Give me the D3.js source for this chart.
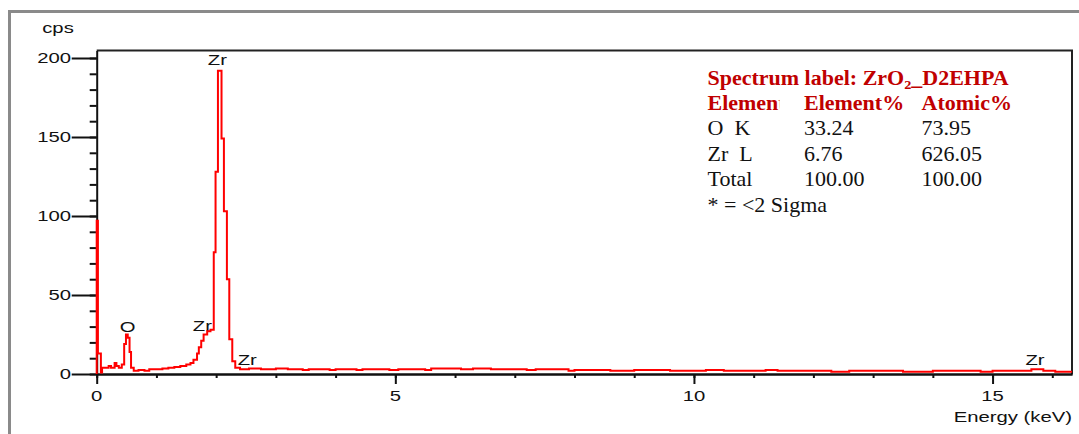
<!DOCTYPE html>
<html>
<head>
<meta charset="utf-8">
<script src="https://cdn.jsdelivr.net/npm/d3@7"></script>
<style>
  body { margin: 0; background: #fff; }
  svg { display: block; }
  text { white-space: pre; }
</style>
</head>
<body>
<div id="app"></div>
<script>
// spectrum steps: each count holds from its energy up to the next energy (keV, cps)
const energy = [0.00, 0.02, 0.07, 0.09, 0.20, 0.24, 0.30, 0.33, 0.37, 0.42,
  0.46, 0.49, 0.52, 0.55, 0.575, 0.62, 0.70, 0.80, 0.88, 1.00,
  1.10, 1.20, 1.30, 1.40, 1.50, 1.57, 1.62, 1.68, 1.71, 1.75,
  1.79, 1.85, 1.905, 1.96, 1.99, 2.03, 2.09, 2.13, 2.18, 2.22,
  2.27, 2.32, 2.40, 2.55, 2.75, 3.00, 3.20, 3.45, 3.55, 3.90,
  4.00, 4.35, 4.45, 4.90, 5.05, 5.50, 5.60, 6.10, 6.30, 6.60,
  7.20, 7.35, 7.90, 8.00, 8.60, 9.00, 9.60, 10.20, 10.50, 11.20,
  11.40, 12.30, 12.60, 13.50, 14.00, 14.80, 15.00, 15.65, 15.85, 16.05,
  16.33]
const counts = [97, 13, 1, 4, 5, 4, 7, 5, 4, 6,
  19, 25, 23, 14, 4, 2, 2.5, 2, 3, 3,
  3.5, 4, 4.5, 5, 6, 7, 9, 13, 17, 21,
  25, 27, 28, 77, 128, 192, 149, 103, 60, 22,
  8, 4, 3, 3.5, 3, 3.5, 3, 2.5, 3, 2.5,
  3, 2.5, 3, 2.5, 3, 2.5, 3.5, 3, 3.5, 3,
  2.5, 3, 2, 2.5, 2, 2.5, 2, 2.5, 2, 2.5,
  2, 1.5, 2, 1.5, 2, 1.5, 2, 3, 2, 1.5,
  1.5]

// peak markers
const peakNames = ['O', 'Zr', 'Zr', 'Zr', 'Zr']
const peakEnergy = [0.52, 2.02, 1.77, 2.52, 15.71]
const peakCps = [26.6, 195.6, 27.2, 5.7, 5.7]

const xMajor = [0, 5, 10, 15]
const xMinor = d3.range(0, 17)
const yMajor = [0, 50, 100, 150, 200]
const yMinor = d3.range(0, 201, 10)

const tableHead = ['Element', 'Element%', 'Atomic%']
const tableRows = [
  ['O  K', '33.24', '73.95'],
  ['Zr  L', '6.76', '626.05'],
  ['Total', '100.00', '100.00'],
  ['* = <2 Sigma', '', '']
]

const W = 1079, H = 434
const x = d3.scaleLinear().domain([0, 16.33]).range([96.7, 1072])
const y = d3.scaleLinear().domain([0, 200]).range([374, 58])
const yTop = 204.75

const svg = d3.select('#app').append('svg')
  .attr('width', W)
  .attr('height', H)

// grey outer frame
svg.append('rect')
  .attr('x', 9.5).attr('y', 11.5)
  .attr('width', 1200).attr('height', 600)
  .attr('fill', 'none')
  .attr('stroke', '#8a8a8a')
  .attr('stroke-width', 3)

// plot box top and right
svg.append('path')
  .attr('d', `M${x(0)},${y(yTop)}H${x.range()[1]}V${y(0)}`)
  .attr('fill', 'none')
  .attr('stroke', '#222')
  .attr('stroke-width', 2)

function styleAxis(g) {
  g.selectAll('path,line').attr('stroke', '#111').attr('stroke-width', 2)
}

svg.append('g').attr('transform', `translate(${x(0)},0)`)
  .call(d3.axisLeft(y).tickValues(yMinor).tickSize(7).tickFormat('').tickSizeOuter(0))
  .call(g => g.select('.domain').remove())
  .call(styleAxis)
svg.append('g').attr('transform', `translate(${x(0)},0)`)
  .call(d3.axisLeft(y.copy().domain([0, yTop]).range([y(0), y(yTop)]))
    .tickValues(yMajor).tickSize(25).tickFormat('').tickSizeOuter(0))
  .call(styleAxis)

svg.append('g').attr('transform', `translate(0,${y(0)})`)
  .call(d3.axisBottom(x).tickValues(xMinor).tickSize(4).tickFormat('').tickSizeOuter(0))
  .call(styleAxis)
svg.append('g').attr('transform', `translate(0,${y(0)})`)
  .call(d3.axisBottom(x).tickValues(xMajor).tickSize(10).tickFormat('').tickSizeOuter(0))
  .call(styleAxis)

// wide sans labels
const sx = 1.45
function wideText(px, py, str, anchor) {
  return svg.append('text')
    .attr('transform', `translate(${px},${py}) scale(${sx},1)`)
    .attr('text-anchor', anchor)
    .attr('font-family', '"Liberation Sans", Arial, sans-serif')
    .attr('font-size', 14)
    .attr('fill', '#111')
    .text(str)
}

yMajor.forEach(v => wideText(71, y(v) + 5, v, 'end'))
xMajor.forEach(v => wideText(x(v), 401, v, 'middle'))
wideText(58, 33, 'cps', 'middle')
wideText(1072, 422, 'Energy (keV)', 'end')

peakNames.forEach((n, i) => wideText(x(peakEnergy[i]), y(peakCps[i]), n, 'middle'))

// spectrum
const pts = [{ e: 0, c: 0 }].concat(energy.map((e, i) => ({ e, c: counts[i] })))
const line = d3.line()
  .x(d => x(d.e))
  .y(d => y(d.c))
  .curve(d3.curveStepAfter)

svg.append('path')
  .datum(pts)
  .attr('d', line)
  .attr('fill', 'none')
  .attr('stroke', '#ff0000')
  .attr('stroke-width', 2)

// quantification table
const red = '#c00000'
const colX = [707.5, 804, 921.5]
const rowY = d3.range(6).map(i => 84.5 + i * 25.4)
const ts = 1.1

// first header cell is cut off by its column width (local text coords)
svg.append('clipPath').attr('id', 'clipEl')
  .append('rect').attr('x', -5).attr('y', -25).attr('width', 70.5).attr('height', 35)

function serif(px, py, bold, color) {
  return svg.append('text')
    .attr('transform', `translate(${px},${py}) scale(${ts},1)`)
    .attr('font-family', '"Liberation Serif", "Times New Roman", serif')
    .attr('font-size', 20)
    .attr('font-weight', bold ? 'bold' : 'normal')
    .attr('fill', color)
}

const title = serif(colX[0], rowY[0], true, red)
title.append('tspan').text('Spectrum label: ZrO')
title.append('tspan').attr('font-size', 13).attr('dy', 4).text('2')
title.append('tspan').attr('dy', -4).text('_D2EHPA')

tableHead.forEach((h, i) => {
  const t = serif(colX[i], rowY[1], true, red).text(h)
  if (i === 0) t.attr('clip-path', 'url(#clipEl)')
})

tableRows.forEach((r, j) => {
  r.forEach((v, i) => {
    if (v) serif(colX[i], rowY[j + 2], false, '#111').text(v)
  })
})
</script>
</body>
</html>
